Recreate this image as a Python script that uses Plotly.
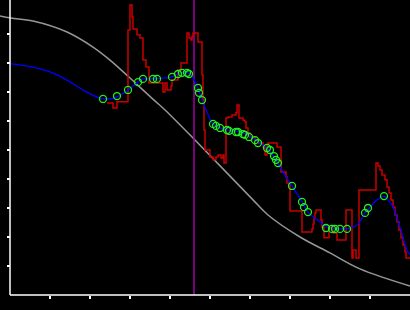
import plotly.graph_objects as go

# ---- data (x: 0..100, y: 0..~100) ----
gray_x = [-2.5, 0.25, 5.75, 14.25, 20.75, 25, 30, 36, 38.75, 46, 60.75, 64.5, 72.5, 80, 87.5, 100]
gray_y = [96.2, 95.5, 94.5, 90.7, 85.5, 81.0, 74.8, 67.2, 63.8, 53.8, 32.8, 27.6, 20.0, 14.5, 9.0, 3.1]

blue_x = [0.25, 5.75, 10, 14.25, 18.25, 22.5, 25, 26.75, 29.5, 32, 33.25, 35.75, 38.25, 40.5, 42.5, 44.5,
          45.75, 47, 48, 49.25, 50.75, 52.5, 54.25, 57.5, 60, 62, 64.25, 66.75, 68.25, 70.5, 73, 74.5,
          77.5, 79.25, 82.5, 84.25, 86.75, 88.75, 90, 91.75, 93.5, 94.5, 95.75, 97.5, 99.25, 100]
blue_y = [79.7, 78.6, 76.9, 74.1, 70.7, 67.9, 67.6, 68.3, 70.7, 73.4, 74.5, 74.5, 74.8, 75.2, 76.6, 76.6,
          74.8, 71.4, 67.2, 63.1, 59.0, 57.6, 56.9, 56.2, 54.8, 52.8, 50.7, 45.9, 42.4, 37.6, 32.1, 28.6,
          25.2, 23.4, 22.8, 22.8, 24.1, 28.3, 30.3, 32.8, 34.1, 32.8, 30.3, 23.4, 15.5, 13.8]

pts_x = [23.25, 26.75, 29.5, 32, 33.25, 35.75, 36.75, 40.5, 42, 43, 44.25, 44.75, 47, 47.25, 48,
         50.75, 51.5, 52.5, 54.25, 54.75, 56.5, 57, 58.25, 58.75, 59.75, 61.25, 62, 64.25, 65, 66,
         66.5, 67, 70.5, 73, 73.5, 74.5, 79, 80.5, 81.25, 82.5, 84.25, 88.75, 89.5, 93.5]
pts_y = [67.6, 68.6, 70.7, 73.4, 74.5, 74.5, 74.5, 75.2, 76.2, 76.6, 76.6, 76.2, 71.4, 69.7, 67.2,
         59.0, 58.3, 57.6, 56.9, 56.6, 56.2, 56.2, 55.5, 55.2, 54.5, 53.4, 52.4, 50.7, 50.0, 47.9,
         46.6, 45.5, 37.6, 32.1, 30.3, 28.6, 23.1, 22.8, 22.8, 22.8, 22.8, 28.3, 30.0, 34.1]

red_x = [24.25, 25.75, 26.75, 29.5, 30, 30.5, 30.75, 31.75, 32.5, 33.25, 34, 34.75, 38.25, 38.75, 39.25,
         40.25, 40.5, 42, 42.75, 44.25, 44.75, 45.25, 45.5, 45.75, 47, 48, 48.25, 48.5, 48.75, 50,
         50.75, 51.5, 52, 52.75, 53.25, 53.5, 54, 54.5, 55.5, 56.5, 56.75, 57.25, 58.25, 58.75, 59,
         59.5, 60, 61.25, 62, 63.25, 63.75, 64.25, 64.5, 66.75, 67.75, 69, 69.25, 70, 73, 75.5,
         75.75, 76, 76.25, 76.5, 77.75, 78, 78.5, 79.75, 80.75, 81.75, 84, 85.5, 85.75, 86.5, 87.25,
         91.5, 92, 92.5, 93, 93.75, 94.25, 94.75, 95.25, 95.75, 96.25, 96.75, 97.25, 97.75, 98.25,
         98.75, 99, 100]
red_y = [66.2, 64.5, 66.6, 91.4, 100, 95.9, 91.7, 89.7, 88.6, 81.0, 78.6, 73.1, 70.0, 73.1, 70.7,
         72.1, 74.1, 77.6, 80.0, 90.3, 88.6, 87.9, 89.0, 90.3, 87.2, 75.9, 67.2, 56.9, 50.0, 47.6,
         46.6, 47.6, 48.3, 47.2, 48.3, 45.5, 61.0, 61.4, 62.1, 62.8, 65.5, 61.0, 60.3, 59.7, 57.6,
         55.9, 54.5, 53.4, 52.4, 51.0, 48.3, 51.7, 52.4, 51.0, 42.4, 40.7, 38.6, 29.0, 21.7, 22.8,
         24.5, 26.6, 28.3, 29.3, 25.9, 23.4, 19.7, 23.4, 21.4, 19.0, 29.3, 12.8, 15.5, 12.8, 36.2,
         45.5, 44.5, 43.1, 41.4, 39.7, 37.2, 35.2, 32.8, 30.3, 27.6, 25.2, 22.4, 19.7, 17.2,
         14.8, 12.8, 12.8]

marker_x = 46
x_ticks = [10, 20, 30, 40, 50, 60, 70, 80, 90]
y_ticks = [10, 20, 30, 40, 50, 60, 70, 80, 90]

X_RANGE = [-2.5, 100]
Y_RANGE = [-5.17, 101.72]

fig = go.Figure()
fig.add_trace(go.Scatter(x=gray_x, y=gray_y, mode="lines", line=dict(color="#969696", width=1.5, shape="spline")))
fig.add_trace(go.Scatter(x=[marker_x, marker_x], y=[0, Y_RANGE[1]], mode="lines", line=dict(color="#a000a0", width=1.5)))
fig.add_trace(go.Scatter(x=red_x, y=red_y, mode="lines", line=dict(color="#c80000", width=1.5, shape="hv")))
fig.add_trace(go.Scatter(x=blue_x, y=blue_y, mode="lines", line=dict(color="#0000ff", width=1.3, shape="spline")))
fig.add_trace(go.Scatter(x=pts_x, y=pts_y, mode="markers",
                         marker=dict(symbol="circle-open", size=7, color="#22ee22", line=dict(width=1.3, color="#22ee22"))))

# axis lines
fig.add_shape(type="line", x0=0, x1=0, y0=0, y1=Y_RANGE[1], xref="x", yref="y", line=dict(color="white", width=1.5))
fig.add_shape(type="line", x0=0, x1=X_RANGE[1], y0=0, y1=0, xref="x", yref="y", line=dict(color="white", width=1.5))

fig.update_layout(
    width=410, height=310,
    margin=dict(l=0, r=0, t=0, b=0),
    paper_bgcolor="black", plot_bgcolor="black",
    showlegend=False,
    xaxis=dict(range=X_RANGE, anchor="free", position=15 / 310, showgrid=False, zeroline=False,
               showline=False, ticks="outside", ticklen=3, tickwidth=1.5, tickcolor="white",
               tickvals=x_ticks, showticklabels=False, fixedrange=True),
    yaxis=dict(range=Y_RANGE, anchor="free", position=10 / 410, showgrid=False, zeroline=False,
               showline=False, ticks="outside", ticklen=3, tickwidth=1.5, tickcolor="white",
               tickvals=y_ticks, showticklabels=False, fixedrange=True),
)

fig.write_html("out.html", config={"displayModeBar": False})
